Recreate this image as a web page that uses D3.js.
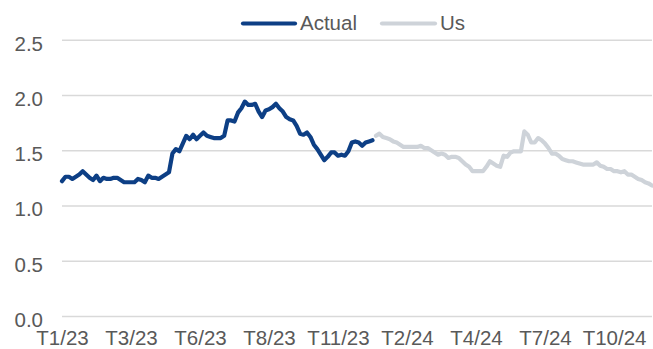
<!DOCTYPE html>
<html>
<head>
<meta charset="utf-8">
<script src="https://cdn.jsdelivr.net/npm/d3@7"></script>
<style>
  html, body { margin: 0; padding: 0; background: #ffffff; }
  svg { display: block; }
  text { font-family: "Liberation Sans", Arial, sans-serif; fill: #595959; }
</style>
</head>
<body>
<div id="chart"></div>
<script>
// Period labels shown on the horizontal axis (one every 20 observations)
const periodLabels = ["T1/23", "T3/23", "T6/23", "T8/23", "T11/23", "T2/24", "T4/24", "T7/24", "T10/24"];
const labelEvery = 20;

// Realised series
const actual = [
  1.22, 1.26, 1.26, 1.24, 1.26, 1.28, 1.31, 1.28, 1.25, 1.23,
  1.27, 1.22, 1.25, 1.24, 1.24, 1.25, 1.25, 1.23, 1.21, 1.21,
  1.21, 1.21, 1.24, 1.23, 1.21, 1.27, 1.25, 1.25, 1.24, 1.26,
  1.28, 1.30, 1.47, 1.51, 1.49, 1.56, 1.63, 1.60, 1.64, 1.60,
  1.63, 1.66, 1.63, 1.62, 1.61, 1.61, 1.61, 1.63, 1.77, 1.77,
  1.76, 1.84, 1.88, 1.94, 1.91, 1.91, 1.92, 1.85, 1.80, 1.86,
  1.87, 1.89, 1.92, 1.88, 1.85, 1.80, 1.78, 1.77, 1.72, 1.65,
  1.64, 1.66, 1.62, 1.55, 1.51, 1.46, 1.41, 1.44, 1.48, 1.48,
  1.45, 1.46, 1.45, 1.49, 1.57, 1.58, 1.57, 1.54, 1.57, 1.58,
  1.59
];

// Projected series, continuing right after the realised one
const us = [
  1.63, 1.65, 1.62, 1.61, 1.60, 1.58, 1.57, 1.55, 1.53, 1.53,
  1.53, 1.53, 1.53, 1.54, 1.52, 1.52, 1.50, 1.48, 1.46, 1.47,
  1.46, 1.43, 1.44, 1.44, 1.43, 1.40, 1.37, 1.35, 1.31, 1.31,
  1.31, 1.31, 1.35, 1.40, 1.38, 1.36, 1.35, 1.45, 1.44, 1.48,
  1.49, 1.49, 1.49, 1.67, 1.64, 1.57, 1.57, 1.61, 1.59, 1.56,
  1.52, 1.47, 1.47, 1.45, 1.42, 1.41, 1.40, 1.40, 1.39, 1.38,
  1.37, 1.37, 1.37, 1.37, 1.39, 1.36, 1.35, 1.33, 1.33, 1.31,
  1.31, 1.30, 1.31, 1.28, 1.28, 1.26, 1.24, 1.23, 1.21, 1.20,
  1.18
];

const seriesNames = ["Actual", "Us"];
const seriesColors = ["#0d3f85", "#ced3d9"];
const yTicks = [0, 0.5, 1.0, 1.5, 2.0, 2.5];

const W = 653, H = 349;
const plot = { left: 62, right: 652, top: 39.7, bottom: 316 };
const fontSize = 20.5;

const total = actual.length + us.length;
const x = d3.scaleLinear().domain([0, total - 1]).range([plot.left, plot.right]);
const y = d3.scaleLinear().domain([0, 2.5]).range([plot.bottom, plot.top]);

const svg = d3.select("#chart").append("svg")
  .attr("width", W).attr("height", H);

// Horizontal gridlines + value labels
const yAxis = d3.axisLeft(y)
  .tickValues(yTicks)
  .tickFormat(d3.format(".1f"))
  .tickSizeInner(-(plot.right - plot.left))
  .tickSizeOuter(0)
  .tickPadding(19);

const gy = svg.append("g")
  .attr("transform", `translate(${plot.left},0)`)
  .call(yAxis);
gy.select(".domain").remove();
gy.selectAll(".tick line").attr("stroke", "#d9d9d9").attr("stroke-width", 1.5);
gy.selectAll(".tick text")
  .attr("font-size", fontSize)
  .attr("dy", null)
  .attr("y", 10.5)
  .style("fill", "#595959")
  .style("font-family", "'Liberation Sans', Arial, sans-serif");

// Period labels along the bottom
const xAxis = d3.axisBottom(x)
  .tickValues(periodLabels.map((_, i) => i * labelEvery))
  .tickFormat((d, i) => periodLabels[i])
  .tickSize(0)
  .tickPadding(0);

const gx = svg.append("g")
  .attr("transform", `translate(0,${plot.bottom})`)
  .call(xAxis);
gx.select(".domain").remove();
gx.selectAll(".tick text")
  .attr("font-size", fontSize)
  .attr("dy", null)
  .attr("y", 28.5)
  .style("fill", "#595959")
  .style("font-family", "'Liberation Sans', Arial, sans-serif");

// Lines: projection first so the realised line sits on top
const line = d3.line()
  .x(d => x(d.i))
  .y(d => y(d.v));

const actualPts = actual.map((v, i) => ({ i, v }));
const usPts = us.map((v, k) => ({ i: actual.length + k, v }));

[[usPts, 1], [actualPts, 0]].forEach(([pts, idx]) => {
  svg.append("path")
    .datum(pts)
    .attr("fill", "none")
    .attr("stroke", seriesColors[idx])
    .attr("stroke-width", 4.2)
    .attr("stroke-linejoin", "round")
    .attr("stroke-linecap", "round")
    .attr("d", line);
});

// Legend
const legendItems = [
  { x0: 243, x1: 295, tx: 300 },
  { x0: 382, x1: 435, tx: 440 }
];
const legend = svg.append("g");
legendItems.forEach((it, i) => {
  legend.append("line")
    .attr("x1", it.x0).attr("x2", it.x1)
    .attr("y1", 23.5).attr("y2", 23.5)
    .attr("stroke", seriesColors[i])
    .attr("stroke-width", 4.2)
    .attr("stroke-linecap", "round");
  legend.append("text")
    .attr("x", it.tx).attr("y", 29.5)
    .attr("font-size", fontSize)
    .text(seriesNames[i]);
});
</script>
</body>
</html>
